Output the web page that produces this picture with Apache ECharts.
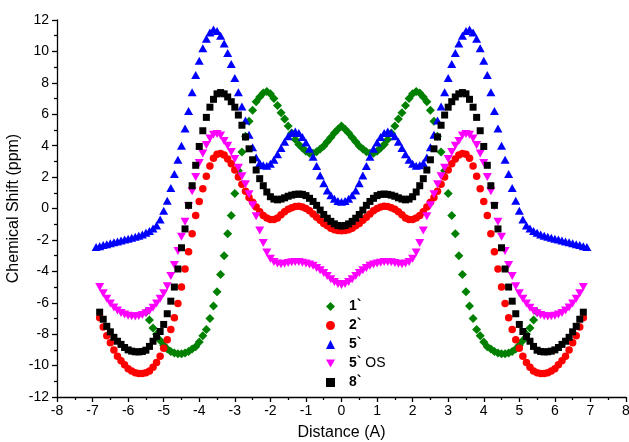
<!DOCTYPE html>
<html>
<head>
<meta charset="utf-8">
<script src="https://cdn.jsdelivr.net/npm/echarts@6/dist/echarts.min.js"></script>
<style>
  html, body { margin: 0; padding: 0; background: #fff; }
  #main { width: 629px; height: 442px; }
</style>
</head>
<body>
<div id="main"></div>
<script>
// distance grid (A)
const distance = [
  -6.9,-6.8,-6.7,-6.6,-6.5,-6.4,-6.3,-6.2,-6.1,-6.0,
  -5.9,-5.8,-5.7,-5.6,-5.5,-5.4,-5.3,-5.2,-5.1,-5.0,
  -4.9,-4.8,-4.7,-4.6,-4.5,-4.4,-4.3,-4.2,-4.1,-4.0,
  -3.9,-3.8,-3.7,-3.6,-3.5,-3.4,-3.3,-3.2,-3.1,-3.0,
  -2.9,-2.8,-2.7,-2.6,-2.5,-2.4,-2.3,-2.2,-2.1,-2.0,
  -1.9,-1.8,-1.7,-1.6,-1.5,-1.4,-1.3,-1.2,-1.1,-1.0,
  -0.9,-0.8,-0.7,-0.6,-0.5,-0.4,-0.3,-0.2,-0.1,0,
  0.1,0.2,0.3,0.4,0.5,0.6,0.7,0.8,0.9,
  1.0,1.1,1.2,1.3,1.4,1.5,1.6,1.7,1.8,1.9,
  2.0,2.1,2.2,2.3,2.4,2.5,2.6,2.7,2.8,2.9,
  3.0,3.1,3.2,3.3,3.4,3.5,3.6,3.7,3.8,3.9,
  4.0,4.1,4.2,4.3,4.4,4.5,4.6,4.7,4.8,4.9,
  5.0,5.1,5.2,5.3,5.4,5.5,5.6,5.7,5.8,5.9,
  6.0,6.1,6.2,6.3,6.4,6.5,6.6,6.7,6.8,6.9
]

// 1` : -5.5 .. 5.5
const shift1 = [
  -6.6,-7.1,-7.6,-8.0,-8.4,-8.7,-8.95,-9.1,-9.2,-9.25,
  -9.25,-9.2,-9.1,-8.95,-8.8,-8.5,-8.1,-7.7,-7.0,-6.2,
  -5.3,-4.2,-3.0,-1.6,-0.45,0.95,2.4,3.6,4.6,5.55,
  6.25,6.8,7.1,7.35,7.45,7.3,7.0,6.55,6.1,5.7,
  5.25,4.8,4.4,4.08,3.85,3.65,3.52,3.52,3.62,3.78,
  3.98,4.25,4.52,4.8,5.05,
  5.25,
  5.05,4.8,4.52,4.25,3.98,
  3.78,3.62,3.52,3.52,3.65,3.85,4.08,4.4,4.8,5.25,
  5.7,6.1,6.55,7.0,7.3,7.45,7.35,7.1,6.8,6.25,
  5.55,4.6,3.6,2.4,0.95,-0.45,-1.6,-3.0,-4.2,-5.3,
  -6.2,-7.0,-7.7,-8.1,-8.5,-8.8,-8.95,-9.1,-9.2,-9.25,
  -9.25,-9.2,-9.1,-8.95,-8.7,-8.4,-8.0,-7.6,-7.1,-6.6
]

// 2` : -6.8 .. 6.8
const shift2 = [
  -6.95,-7.55,-8.1,-8.55,-9.0,-9.4,-9.7,-9.95,-10.2,-10.35,
  -10.45,-10.5,-10.5,-10.45,-10.35,-10.1,-9.8,-9.4,-8.9,-8.35,
  -7.7,-6.95,-6.05,-5.0,-3.85,-2.75,-1.6,-0.45,0.45,1.25,
  2.05,2.7,3.2,3.45,3.5,3.4,3.15,2.85,2.45,2.0,
  1.55,1.1,0.7,0.4,0.1,-0.2,-0.45,-0.6,-0.7,-0.7,
  -0.6,-0.4,-0.2,-0.05,0.05,0.12,0.15,0.1,0.0,-0.15,
  -0.35,-0.55,-0.75,-0.95,-1.1,-1.25,-1.35,-1.4,
  -1.42,
  -1.4,-1.35,-1.25,-1.1,-0.95,-0.75,-0.55,-0.35,
  -0.15,0.0,0.1,0.15,0.12,0.05,-0.05,-0.2,-0.4,-0.6,
  -0.7,-0.7,-0.6,-0.45,-0.2,0.1,0.4,0.7,1.1,1.55,
  2.0,2.45,2.85,3.15,3.4,3.5,3.45,3.2,2.7,2.05,
  1.25,0.45,-0.45,-1.6,-2.75,-3.85,-5.0,-6.05,-6.95,-7.7,
  -8.35,-8.9,-9.4,-9.8,-10.1,-10.35,-10.45,-10.5,-10.5,-10.45,
  -10.35,-10.2,-9.95,-9.7,-9.4,-9.0,-8.55,-8.1,-7.55,-6.95
]

// 5` : -6.9 .. 6.9
const shift5 = [
  -2.45,-2.40,-2.33,-2.27,-2.22,-2.15,-2.10,-2.03,-1.97,-1.92,
  -1.86,-1.80,-1.73,-1.65,-1.55,-1.43,-1.28,-1.08,-0.70,-0.15,
  0.5,1.3,2.2,3.1,4.0,5.1,6.2,7.4,8.5,9.4,
  10.2,10.8,11.2,11.4,11.3,11.0,10.5,9.9,9.2,8.3,
  7.4,6.5,5.6,4.7,3.9,3.25,2.9,2.75,2.72,2.85,
  3.1,3.45,3.85,4.25,4.6,4.8,4.9,4.8,4.55,4.2,
  3.8,3.3,2.7,2.1,1.6,1.15,0.85,0.62,0.48,
  0.43,
  0.48,0.62,0.85,1.15,1.6,2.1,2.7,3.3,3.8,
  4.2,4.55,4.8,4.9,4.8,4.6,4.25,3.85,3.45,3.1,
  2.85,2.72,2.75,2.9,3.25,3.9,4.7,5.6,6.5,7.4,
  8.3,9.2,9.9,10.5,11.0,11.3,11.4,11.2,10.8,10.2,
  9.4,8.5,7.4,6.2,5.1,4.0,3.1,2.2,1.3,0.5,
  -0.15,-0.70,-1.08,-1.28,-1.43,-1.55,-1.65,-1.73,-1.80,-1.86,
  -1.92,-1.97,-2.03,-2.10,-2.15,-2.22,-2.27,-2.33,-2.40,-2.45
]

// 5` OS : -6.8 .. 6.8
const shift5os = [
  -5.0,-5.4,-5.75,-6.05,-6.3,-6.5,-6.65,-6.75,-6.82,-6.86,
  -6.87,-6.85,-6.78,-6.67,-6.52,-6.32,-6.05,-5.75,-5.4,-4.95,
  -4.3,-3.6,-2.7,-1.8,-0.85,0.15,1.1,2.0,2.9,3.5,
  4.05,4.45,4.7,4.75,4.65,4.3,4.0,3.6,3.15,2.6,
  2.05,1.55,0.9,0.2,-0.5,-1.4,-2.2,-2.8,-3.2,-3.4,
  -3.5,-3.55,-3.52,-3.47,-3.42,-3.4,-3.4,-3.45,-3.5,-3.57,
  -3.65,-3.78,-3.93,-4.1,-4.3,-4.5,-4.68,-4.8,
  -4.87,
  -4.8,-4.68,-4.5,-4.3,-4.1,-3.93,-3.78,-3.65,
  -3.57,-3.5,-3.45,-3.4,-3.4,-3.42,-3.47,-3.52,-3.55,-3.5,
  -3.4,-3.2,-2.8,-2.2,-1.4,-0.5,0.2,0.9,1.55,2.05,
  2.6,3.15,3.6,4.0,4.3,4.65,4.75,4.7,4.45,4.05,
  3.5,2.9,2.0,1.1,0.15,-0.85,-1.8,-2.7,-3.6,-4.3,
  -4.95,-5.4,-5.75,-6.05,-6.32,-6.52,-6.67,-6.78,-6.85,-6.87,
  -6.86,-6.82,-6.75,-6.65,-6.5,-6.3,-6.05,-5.75,-5.4,-5.0
]

// 8` : -6.8 .. 6.8
const shift8 = [
  -6.6,-7.05,-7.5,-7.85,-8.2,-8.45,-8.65,-8.85,-9.0,-9.08,
  -9.12,-9.13,-9.1,-9.02,-8.78,-8.45,-8.15,-7.83,-7.38,-6.7,
  -5.9,-5.0,-3.85,-2.5,-1.3,0.2,1.45,2.75,3.95,4.95,
  5.8,6.45,6.95,7.3,7.38,7.3,7.1,6.8,6.45,5.95,
  5.3,4.55,3.8,3.1,2.45,1.9,1.45,1.05,0.75,0.6,
  0.55,0.6,0.68,0.78,0.85,0.9,0.92,0.9,0.82,0.65,
  0.45,0.2,-0.1,-0.38,-0.62,-0.82,-0.98,-1.08,
  -1.12,
  -1.08,-0.98,-0.82,-0.62,-0.38,-0.1,0.2,0.45,
  0.65,0.82,0.9,0.92,0.9,0.85,0.78,0.68,0.6,0.55,
  0.6,0.75,1.05,1.45,1.9,2.45,3.1,3.8,4.55,5.3,
  5.95,6.45,6.8,7.1,7.3,7.38,7.3,6.95,6.45,5.8,
  4.95,3.95,2.75,1.45,0.2,-1.3,-2.5,-3.85,-5.0,-5.9,
  -6.7,-7.38,-7.83,-8.15,-8.45,-8.78,-9.02,-9.1,-9.13,-9.12,
  -9.08,-9.0,-8.85,-8.65,-8.45,-8.2,-7.85,-7.5,-7.05,-6.6
]

const xTicks = [-8, -7, -6, -5, -4, -3, -2, -1, 0, 1, 2, 3, 4, 5, 6, 7, 8]
const yTicks = [-12, -10, -8, -6, -4, -2, 0, 2, 4, 6, 8, 10, 12]

const pair = (xs, ys) => xs.map((x, i) => [x, ys[i]])
const x1 = distance.slice(14, 125)
const x68 = distance.slice(1, 138)

const font = 'Arial, "Liberation Sans", sans-serif'
const axisCommon = {
  type: 'value',
  nameLocation: 'middle',
  nameMoveOverlap: false,
  nameTextStyle: { fontSize: 16, color: '#000', fontFamily: font },
  axisLine: { show: true, onZero: false, lineStyle: { color: '#000', width: 1.3 } },
  axisTick: { show: true, inside: false, length: 5, lineStyle: { color: '#000', width: 1.3 } },
  minorTick: { show: true, splitNumber: 2, length: 3, lineStyle: { color: '#000', width: 1.3 } },
  splitLine: { show: false },
  axisLabel: { fontSize: 14, color: '#000', fontFamily: font }
}

const chart = echarts.init(document.getElementById('main'), null, { renderer: 'canvas' })
chart.setOption({
  animation: false,
  backgroundColor: '#fff',
  grid: { left: 57, right: 3, top: 20, bottom: 45, containLabel: false, outerBoundsMode: 'none' },
  xAxis: Object.assign({}, axisCommon, {
    name: 'Distance (A)',
    nameGap: 28,
    min: xTicks[0],
    max: xTicks[xTicks.length - 1],
    interval: 1,
    axisLabel: Object.assign({}, axisCommon.axisLabel, { margin: 7 })
  }),
  yAxis: Object.assign({}, axisCommon, {
    name: 'Chemical Shift (ppm)',
    nameGap: 35,
    min: yTicks[0],
    max: yTicks[yTicks.length - 1],
    interval: 2,
    axisLabel: Object.assign({}, axisCommon.axisLabel, { margin: 8 })
  }),
  legend: {
    orient: 'vertical',
    left: 321,
    top: 293,
    itemWidth: 9,
    itemHeight: 9,
    itemGap: 2,
    textStyle: {
      fontSize: 14, color: '#000', fontFamily: font, lineHeight: 17,
      rich: {
        s: { width: 9 },
        b: { fontSize: 14, fontWeight: 'bold', color: '#000', fontFamily: font, lineHeight: 17 }
      }
    },
    formatter: name => name === '5` OS' ? '{s|}{b|5`} OS' : '{s|}{b|' + name + '}',
    data: ['1`', '2`', '5`', '5` OS', '8`']
  },
  series: [
    {
      name: '1`', type: 'scatter', data: pair(x1, shift1),
      symbol: 'diamond', symbolSize: 9, itemStyle: { color: '#008000', opacity: 1 }
    },
    {
      name: '2`', type: 'scatter', data: pair(x68, shift2),
      symbol: 'circle', symbolSize: 7.5, itemStyle: { color: '#ff0000', opacity: 1 }
    },
    {
      name: '5`', type: 'scatter', data: pair(distance, shift5),
      symbol: 'triangle', symbolSize: [9, 8], itemStyle: { color: '#0000ff', opacity: 1 }
    },
    {
      name: '5` OS', type: 'scatter', data: pair(x68, shift5os),
      symbol: 'path://M0,0L10,0L5,9Z', symbolSize: [9, 8], itemStyle: { color: '#ff00ff', opacity: 1 }
    },
    {
      name: '8`', type: 'scatter', data: pair(x68, shift8),
      symbol: 'rect', symbolSize: 7, itemStyle: { color: '#000000', opacity: 1 }
    }
  ]
})
window.addEventListener('resize', () => {
  chart.resize()
})
</script>
</body>
</html>
